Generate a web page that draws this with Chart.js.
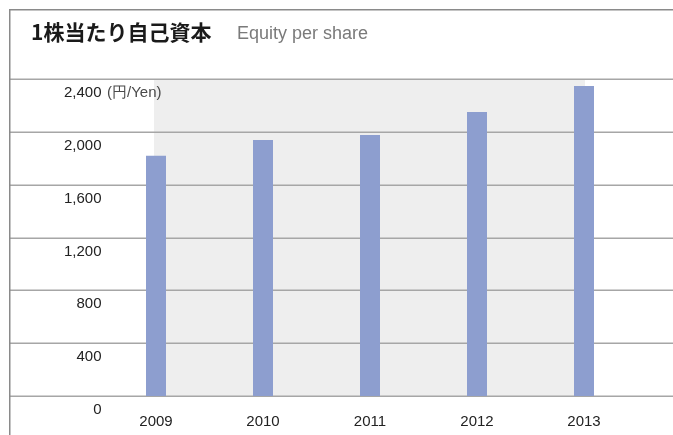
<!DOCTYPE html>
<html>
<head>
<meta charset="utf-8">
<script src="https://cdn.jsdelivr.net/npm/chart.js@4/dist/chart.umd.min.js"></script>
<style>
  html, body { margin: 0; padding: 0; background: #ffffff; }
  #wrap { position: relative; width: 673px; height: 435px; }
  canvas { position: absolute; left: 0; top: 0; }
</style>
</head>
<body>
<div id="wrap"><canvas id="c" width="673" height="435"></canvas></div>
<script>
const titleJa = '1株当たり自己資本';
const titleEn = 'Equity per share';
const unitLabel = '(円/Yen)';
const categories = ['2009', '2010', '2011', '2012', '2013'];
const equityPerShare = [1819, 1938, 1976, 2150, 2347];
const yTicks = [0, 400, 800, 1200, 1600, 2000, 2400];

const NUM_FONT = '"Liberation Sans", Arial, sans-serif';

const decor = {
  id: 'decor',
  beforeDatasetsDraw(chart) {
    const ctx = chart.ctx;
    const x = chart.scales.x, y = chart.scales.y;
    const W = chart.width;
    ctx.save();
    // shaded panel
    const gx0 = x.getPixelForValue(0) - 2;
    const gx1 = x.getPixelForValue(categories.length - 1) + 1;
    const gy0 = y.getPixelForValue(yTicks[yTicks.length - 1]);
    const gy1 = y.getPixelForValue(0);
    ctx.fillStyle = '#eeeeee';
    ctx.fillRect(gx0, gy0, gx1 - gx0, gy1 - gy0);
    // gridlines
    ctx.strokeStyle = '#a6a6a6';
    ctx.lineWidth = 1.5;
    yTicks.forEach(v => {
      const py = Math.round(y.getPixelForValue(v)) + 0.25;
      ctx.beginPath();
      ctx.moveTo(10, py);
      ctx.lineTo(W, py);
      ctx.stroke();
    });
    ctx.restore();
  },
  afterDraw(chart) {
    const ctx = chart.ctx;
    const y = chart.scales.y;
    ctx.save();
    // frame (top and left)
    ctx.strokeStyle = '#8a8a8a';
    ctx.lineWidth = 1.5;
    ctx.beginPath();
    ctx.moveTo(9.75, chart.height);
    ctx.lineTo(9.75, 9.75);
    ctx.lineTo(chart.width, 9.75);
    ctx.stroke();
    // titles
    ctx.textBaseline = 'alphabetic';
    ctx.textAlign = 'left';
    ctx.fillStyle = '#1a1a1a';
    ctx.font = 'bold 21px "Noto Sans CJK JP", sans-serif';
    ctx.fillText(titleJa, 31, 40);
    ctx.fillStyle = '#7a7a7a';
    ctx.font = '18px ' + NUM_FONT;
    ctx.fillText(titleEn, 237, 39);
    // unit label next to top tick
    ctx.fillStyle = '#4a4a4a';
    ctx.font = '15px ' + NUM_FONT;
    ctx.textBaseline = 'middle';
    ctx.fillText(unitLabel, 107, y.getPixelForValue(yTicks[yTicks.length - 1]) + 14);
    ctx.restore();
  }
};

new Chart(document.getElementById('c'), {
  type: 'bar',
  data: {
    labels: categories,
    datasets: [{
      data: equityPerShare,
      backgroundColor: '#8d9ecf',
      borderWidth: 0,
      barPercentage: 20 / 107,
      categoryPercentage: 1.0
    }]
  },
  options: {
    responsive: false,
    animation: false,
    devicePixelRatio: 1,
    layout: { padding: { top: 79, right: 35.5, left: 0, bottom: 0 } },
    plugins: {
      legend: { display: false },
      tooltip: { enabled: false },
      title: { display: false }
    },
    scales: {
      x: {
        grid: { display: false, drawTicks: false },
        border: { display: false },
        ticks: {
          color: '#222222',
          font: { family: NUM_FONT, size: 15 },
          padding: 17,
          maxRotation: 0
        },
        afterFit(s) { s.height = 39; }
      },
      y: {
        min: 0,
        max: 2400,
        afterBuildTicks(s) { s.ticks = yTicks.map(v => ({ value: v })); },
        grid: { display: false, drawTicks: false },
        border: { display: false },
        ticks: {
          color: '#222222',
          font: { family: NUM_FONT, size: 15 },
          padding: 1,
          labelOffset: 14,
          callback: v => v.toLocaleString('en-US')
        },
        afterFit(s) { s.width = 102.5; }
      }
    }
  },
  plugins: [decor]
});
</script>
</body>
</html>
